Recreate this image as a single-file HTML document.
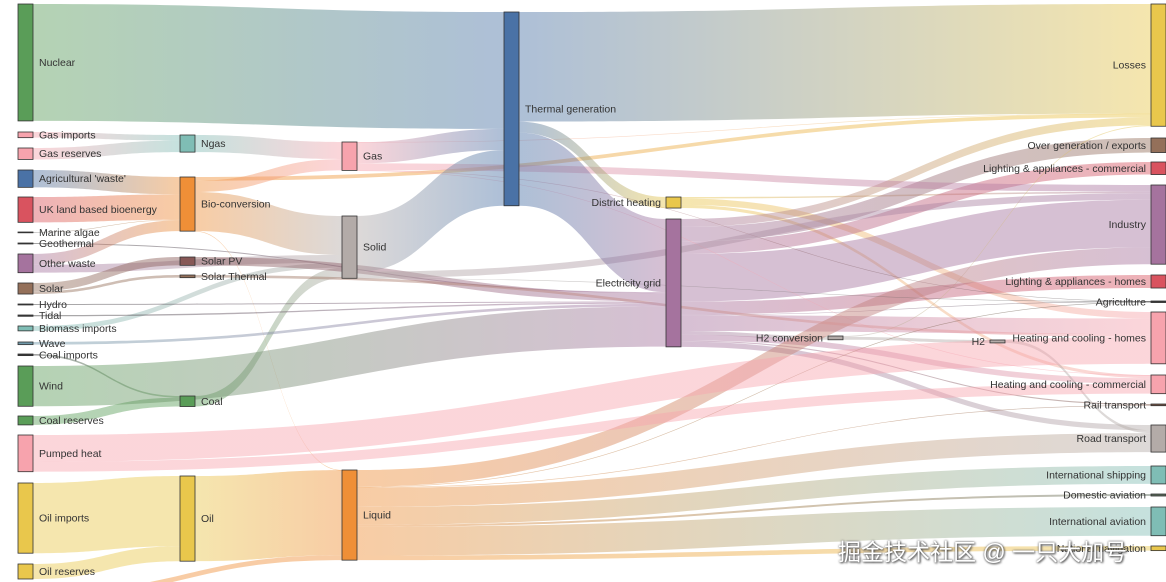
<!DOCTYPE html>
<html><head><meta charset="utf-8">
<style>
html,body{margin:0;padding:0;background:#fff;}
#wrap{position:relative;width:1166px;height:582px;overflow:hidden;}
svg{display:block;}
text{font-family:"Liberation Sans",sans-serif;font-size:10.5px;fill:#333;}
#wm{position:absolute;left:838px;top:533px;font-family:"Liberation Sans","Noto Sans CJK SC",sans-serif;font-size:23px;color:#fff;text-shadow:0 0 2px #555,1px 1px 2px #444;white-space:nowrap;}
</style></head>
<body>
<div id="wrap">
<svg id="chart" width="1166" height="582"></svg>
<div id="wm">掘金技术社区 @ 一只大加号</div>
</div>
<script>
// ---- data ----
const nodeNames = ["Nuclear","Gas imports","Gas reserves","Agricultural 'waste'","UK land based bioenergy","Marine algae","Geothermal","Other waste","Solar","Hydro","Tidal","Biomass imports","Wave","Coal imports","Wind","Coal reserves","Pumped heat","Oil imports","Oil reserves","Biofuel imports",
"Ngas","Bio-conversion","Solar PV","Solar Thermal","Coal","Oil",
"Gas","Solid","Liquid",
"Thermal generation",
"District heating","Electricity grid",
"H2 conversion","H2",
"Losses","Over generation / exports","Lighting & appliances - commercial","Industry","Lighting & appliances - homes","Agriculture","Heating and cooling - homes","Heating and cooling - commercial","Rail transport","Road transport","International shipping","Domestic aviation","International aviation","National navigation"];
const linkSources = ["Agricultural 'waste'","Bio-conversion","Bio-conversion","Bio-conversion","Bio-conversion","Biofuel imports","Biomass imports","Coal imports","Coal reserves","Coal","District heating","District heating","District heating","Electricity grid","Electricity grid","Electricity grid","Electricity grid","Electricity grid","Electricity grid","Electricity grid","Electricity grid","Electricity grid","Electricity grid","Electricity grid","Gas imports","Gas reserves","Gas","Gas","Gas","Gas","Gas","Geothermal","H2 conversion","H2 conversion","H2","Hydro","Liquid","Liquid","Liquid","Liquid","Liquid","Liquid","Liquid","Liquid","Marine algae","Ngas","Nuclear","Oil imports","Oil reserves","Oil","Other waste","Other waste","Pumped heat","Pumped heat","Solar PV","Solar Thermal","Solar","Solar","Solid","Solid","Solid","Thermal generation","Thermal generation","Thermal generation","Tidal","UK land based bioenergy","Wave","Wind"];
const linkTargets = ["Bio-conversion","Liquid","Losses","Solid","Gas","Liquid","Solid","Coal","Coal","Solid","Industry","Heating and cooling - commercial","Heating and cooling - homes","Over generation / exports","Heating and cooling - homes","H2 conversion","Industry","Road transport","Agriculture","Heating and cooling - commercial","Losses","Rail transport","Lighting & appliances - commercial","Lighting & appliances - homes","Ngas","Ngas","Heating and cooling - commercial","Losses","Thermal generation","Agriculture","Industry","Electricity grid","H2","Losses","Road transport","Electricity grid","Industry","International shipping","Road transport","Domestic aviation","International aviation","Agriculture","National navigation","Rail transport","Bio-conversion","Gas","Thermal generation","Oil","Oil","Liquid","Solid","Bio-conversion","Heating and cooling - homes","Heating and cooling - commercial","Electricity grid","Heating and cooling - homes","Solar Thermal","Solar PV","Agriculture","Thermal generation","Industry","Electricity grid","Losses","District heating","Electricity grid","Bio-conversion","Electricity grid","Electricity grid"];
const linkValues = [124.729,0.597,26.862,280.322,81.144,35,35,11.606,63.965,75.571,10.639,22.505,46.184,104.453,113.726,27.14,342.165,37.797,4.412,40.858,56.691,7.863,90.008,93.494,40.719,82.233,0.129,1.401,151.891,2.096,48.58,7.013,20.897,6.242,20.897,6.995,121.066,128.69,135.835,14.458,206.267,3.64,33.218,4.413,4.375,122.952,839.978,504.287,107.703,611.99,56.587,77.81,193.026,70.672,59.901,19.263,19.263,59.901,0.882,400.12,46.477,525.531,787.129,79.329,9.452,182.01,19.013,289.366];

// ---- layout (positions / styling, not data) ----
const colX=[18,180,342,504,666,828,990,1151];
const nodeCol=[0,0,0,0,0,0,0,0,0,0,0,0,0,0,0,0,0,0,0,0, 1,1,1,1,1,1, 2,2,2, 3, 4,4, 5,6, 7,7,7,7,7,7,7,7,7,7,7,7,7,7];
const nodeTop=[4,132,148,170,197,232,243,254,283,304,315,326,342,354,366,416,435,483,564,592,
135,177,257,275,396,476, 142,216,470, 12, 197,219, 336,340,
4,138,162,185,275,301,312,375,404,425,466,494,507,546];
const G='#5a9d58',PK='#f7a3ad',BL='#4a72a6',RD='#d9535f',DK='#3a3a3a',PU='#a5739e',BR='#94705a',TL='#7fbdb5',YL='#e9c74c',OR='#ef8f37',GR='#b3aba8';
const nodeColor=[G,PK,PK,BL,RD,DK,DK,PU,BR,DK,DK,TL,'#6f98a8',DK,G,G,PK,YL,YL,OR,
TL,OR,'#875856',BR,G,YL, PK,GR,OR, BL, YL,PU, GR,GR,
YL,BR,RD,PU,RD,DK,PK,PK,'#7a5545',GR,TL,'#5b6b5b',TL,YL];
const K=0.1392, NW=15;

const svg=document.getElementById('chart');
const NS='http://www.w3.org/2000/svg';
const defs=document.createElementNS(NS,'defs');svg.appendChild(defs);
const idx={};nodeNames.forEach((n,i)=>idx[n]=i);
const inSum=nodeNames.map(()=>0),outSum=nodeNames.map(()=>0);
const links=linkValues.map((v,i)=>{const s=idx[linkSources[i]],t=idx[linkTargets[i]];outSum[s]+=v;inSum[t]+=v;return {s,t,v};});
const nodeH=nodeNames.map((_,i)=>Math.max(0.8,Math.max(inSum[i],outSum[i])*K));
// stack offsets
const outOff=nodeNames.map(()=>0),inOff=nodeNames.map(()=>0);
const byOut=links.slice().sort((a,b)=>nodeTop[a.t]-nodeTop[b.t]);
byOut.forEach(l=>{l.sy=nodeTop[l.s]+outOff[l.s];outOff[l.s]+=l.v*K;});
const byIn=links.slice().sort((a,b)=>nodeTop[a.s]-nodeTop[b.s]);
byIn.forEach(l=>{l.ty=nodeTop[l.t]+inOff[l.t];inOff[l.t]+=l.v*K;});
const gLinks=document.createElementNS(NS,'g');svg.appendChild(gLinks);


links.forEach((l,i)=>{
  const x0=colX[nodeCol[l.s]]+NW,x1=colX[nodeCol[l.t]],w=Math.max(0.6,l.v*K);
  const gid='g'+i;
  const gr=document.createElementNS(NS,'linearGradient');
  gr.setAttribute('id',gid);gr.setAttribute('gradientUnits','userSpaceOnUse');
  gr.setAttribute('x1',x0);gr.setAttribute('x2',x1);gr.setAttribute('y1',0);gr.setAttribute('y2',0);
  gr.innerHTML='<stop offset="0" stop-color="'+nodeColor[l.s]+'"/><stop offset="1" stop-color="'+nodeColor[l.t]+'"/>';
  defs.appendChild(gr);
  const xm=(x0+x1)/2,y0=l.sy,y1=l.ty;
  const d='M'+x0+','+y0+' C'+xm+','+y0+' '+xm+','+y1+' '+x1+','+y1+' L'+x1+','+(y1+w)+' C'+xm+','+(y1+w)+' '+xm+','+(y0+w)+' '+x0+','+(y0+w)+' Z';
  const p=document.createElementNS(NS,'path');
  p.setAttribute('d',d);p.setAttribute('fill','url(#'+gid+')');p.setAttribute('fill-opacity','0.45');
  
  
  gLinks.appendChild(p);
});
const gNodes=document.createElementNS(NS,'g');svg.appendChild(gNodes);


nodeNames.forEach((n,i)=>{
  const c=nodeCol[i],x=colX[c],y=nodeTop[i],h=nodeH[i];
  const slug=n.replace(/[^a-z0-9]+/gi,'-').toLowerCase().replace(/^-|-$/g,'');
  const r=document.createElementNS(NS,'rect');
  r.setAttribute('x',x);r.setAttribute('y',y);r.setAttribute('width',NW);r.setAttribute('height',h);
  r.setAttribute('fill',nodeColor[i]);r.setAttribute('stroke','#333');r.setAttribute('stroke-width','0.8');
  
  
  gNodes.appendChild(r);
  const t=document.createElementNS(NS,'text');
  const left=c>=4;
  t.setAttribute('x',left?x-5:x+NW+6);t.setAttribute('y',y+h/2+3.5);
  t.setAttribute('text-anchor',left?'end':'start');
  t.textContent=n;
  
  
  gNodes.appendChild(t);
});
</script>
</body></html>
